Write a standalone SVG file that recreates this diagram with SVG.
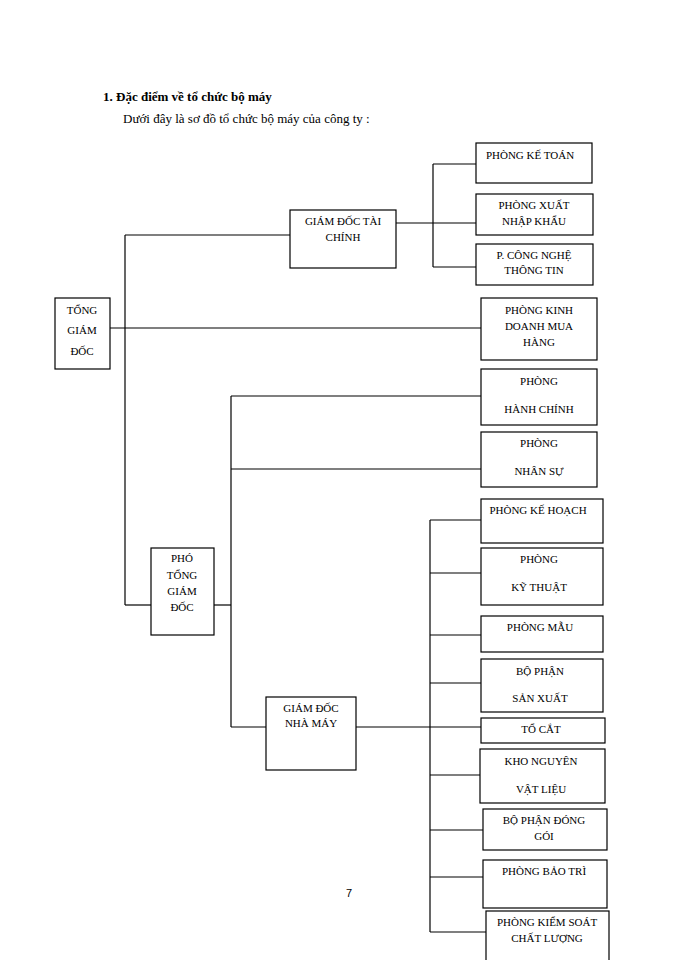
<svg xmlns="http://www.w3.org/2000/svg" width="700" height="960" viewBox="0 0 700 960">
<style>
rect{fill:#fff;stroke:#000;stroke-width:1.2}
line{stroke:#000;stroke-width:1.2}
text{font-family:"Liberation Serif",serif;font-size:11px;text-anchor:middle;fill:#000}
.h{font-size:13px;text-anchor:start}
</style>
<rect x="0" y="0" width="700" height="960" style="stroke:none"/>
<text class="h" x="103" y="101" font-weight="bold">1.  Đặc điểm về tổ chức bộ máy</text>
<text class="h" x="123" y="123">Dưới đây là sơ đồ tổ chức bộ máy của công ty :</text>
<text x="349" y="897" style="font-family:'Liberation Sans',sans-serif">7</text>
<g id="connectors">
<line x1="125" y1="235" x2="125" y2="605"/>
<line x1="110" y1="328" x2="481" y2="328"/>
<line x1="125" y1="235" x2="290" y2="235"/>
<line x1="396" y1="223" x2="476" y2="223"/>
<line x1="433" y1="164" x2="433" y2="267"/>
<line x1="433" y1="164" x2="476" y2="164"/>
<line x1="433" y1="267" x2="476" y2="267"/>
<line x1="125" y1="605" x2="151" y2="605"/>
<line x1="214" y1="605" x2="231" y2="605"/>
<line x1="231" y1="396" x2="231" y2="727"/>
<line x1="231" y1="396" x2="481" y2="396"/>
<line x1="231" y1="469" x2="481" y2="469"/>
<line x1="231" y1="727" x2="266" y2="727"/>
<line x1="356" y1="727" x2="481" y2="727"/>
<line x1="430" y1="520" x2="430" y2="932"/>
<line x1="430" y1="520" x2="481" y2="520"/>
<line x1="430" y1="573" x2="481" y2="573"/>
<line x1="430" y1="635" x2="481" y2="635"/>
<line x1="430" y1="683" x2="481" y2="683"/>
<line x1="430" y1="775" x2="480" y2="775"/>
<line x1="430" y1="830" x2="483" y2="830"/>
<line x1="430" y1="877" x2="483" y2="877"/>
<line x1="430" y1="932" x2="486" y2="932"/>
</g>
<g id="tgd"><rect x="55" y="298" width="55" height="71"/><text x="82" y="314">TỔNG</text><text x="82" y="334">GIÁM</text><text x="82" y="355">ĐỐC</text></g>
<g id="gdtc"><rect x="290" y="210" width="106" height="58"/><text x="343" y="225">GIÁM ĐỐC TÀI</text><text x="343" y="241">CHÍNH</text></g>
<g id="kt"><rect x="476" y="143" width="116" height="40"/><text x="530" y="159">PHÒNG KẾ TOÁN</text></g>
<g id="xnk"><rect x="476" y="194" width="117" height="41"/><text x="534" y="209">PHÒNG XUẤT</text><text x="534" y="225">NHẬP KHẨU</text></g>
<g id="cntt"><rect x="476" y="244" width="117" height="41"/><text x="534" y="259">P. CÔNG NGHỆ</text><text x="534" y="274">THÔNG TIN</text></g>
<g id="kd"><rect x="481" y="298" width="116" height="62"/><text x="539" y="314">PHÒNG KINH</text><text x="539" y="330">DOANH MUA</text><text x="539" y="346">HÀNG</text></g>
<g id="hc"><rect x="481" y="369" width="116" height="56"/><text x="539" y="385">PHÒNG</text><text x="539" y="413">HÀNH CHÍNH</text></g>
<g id="ns"><rect x="481" y="432" width="116" height="55"/><text x="539" y="447">PHÒNG</text><text x="539" y="475">NHÂN SỰ</text></g>
<g id="ptgd"><rect x="151" y="548" width="63" height="87"/><text x="182" y="562">PHÓ</text><text x="182" y="579">TỔNG</text><text x="182" y="595">GIÁM</text><text x="182" y="611">ĐỐC</text></g>
<g id="gdnm"><rect x="266" y="697" width="90" height="73"/><text x="311" y="712">GIÁM ĐỐC</text><text x="311" y="727">NHÀ MÁY</text></g>
<g id="kh"><rect x="481" y="499" width="122" height="44"/><text x="538" y="514">PHÒNG KẾ HOẠCH</text></g>
<g id="kyt"><rect x="481" y="548" width="122" height="57"/><text x="539" y="563">PHÒNG</text><text x="539" y="591">KỸ THUẬT</text></g>
<g id="mau"><rect x="481" y="616" width="122" height="36"/><text x="540" y="631">PHÒNG  MẪU</text></g>
<g id="sx"><rect x="481" y="659" width="122" height="53"/><text x="540" y="675">BỘ PHẬN</text><text x="540" y="702">SẢN XUẤT</text></g>
<g id="tc"><rect x="481" y="718" width="124" height="25"/><text x="541" y="733">TỔ CẮT</text></g>
<g id="kho"><rect x="480" y="749" width="125" height="54"/><text x="541" y="765">KHO  NGUYÊN</text><text x="541" y="793">VẬT LIỆU</text></g>
<g id="dg"><rect x="483" y="809" width="124" height="41"/><text x="544" y="824">BỘ PHẬN ĐÓNG</text><text x="544" y="840">GÓI</text></g>
<g id="bt"><rect x="483" y="860" width="124" height="48"/><text x="544" y="875">PHÒNG  BẢO TRÌ</text></g>
<g id="ks"><rect x="486" y="911" width="123" height="55"/><text x="547" y="926">PHÒNG KIỂM SOÁT</text><text x="547" y="942">CHẤT LƯỢNG</text></g>
</svg>
